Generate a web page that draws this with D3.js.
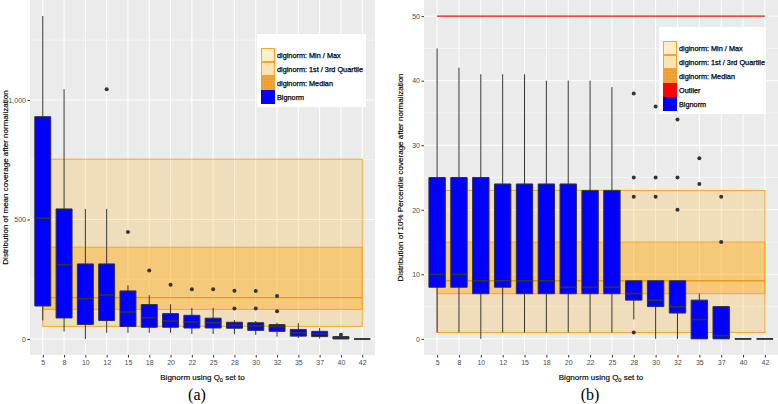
<!DOCTYPE html>
<html>
<head>
<meta charset="utf-8">
<script src="https://cdn.jsdelivr.net/npm/d3@7"></script>
<style>
html,body{margin:0;padding:0;background:#fff;}
svg{display:block;}
text{font-family:"Liberation Sans",Arial,Helvetica,sans-serif;}
</style>
</head>
<body>
<svg id="chart" width="778" height="404"></svg>
<script>
// ---------------- DATA ----------------
const categories = ["5","8","10","12","15","18","20","22","25","28","30","32","35","37","40","42"];

// (a) mean coverage after normalization (Bignorm boxplots)
const meanUpper  = [1351,1045,544,544,225,183,145,130,130,79,75,68,66,46,10,0];
const meanQ3     = [930,544,314,314,201,144,106,99,87,70,68,60,40,32,10,0];
const meanMedian = [505,311,169,184,113,89,75,71,68,57,54,52,26,21,4,0];
const meanQ1     = [138,88,61,77,52,49,49,46,46,45,36,32,12,10,0,0];
const meanLower  = [77,31,0,26,26,26,26,21,21,20,17,10,4,2,0,0];
const meanOutliers = [[],[],[],[1045],[448],[286],[227],[208],[208],[202,128],[201,128],[180,116],[],[],[18],[]];
// diginorm summary: min, q1, median, q3, max
const digiMean = [53,124,173,384,752];
const meanTicks = [0,500,1000];
const meanMinorTicks = [250,750,1250];

// (b) 10% percentile coverage after normalization
const p10Upper  = [45,42,41,41,41,40,40,40,39,9,9,9,7,5,0,0];
const p10Q3     = [25,25,25,24,24,24,24,23,23,9,9,9,6,5,0,0];
const p10Median = [10,10,9,9,9,9,8,8,8,7,6,5,3,0.5,0,0];
const p10Q1     = [8,8,7,8,7,7,7,7,7,6,5,4,0,0,0,0];
const p10Lower  = [1,1,0,1,1,1,1,1,1,3,0,0,0,0,0,0];
const p10Outliers = [[],[],[],[],[],[],[],[],[],[38,25,22,1],[36,25,22],[34,25,20],[28,24],[22,15],[],[]];
const digiP10 = [1,7,9,15,23];
const p10OutlierLine = 50;
const p10Ticks = [0,10,20,30,40,50];
const p10MinorTicks = [5,15,25,35,45];

const legendLabelsA = ["diginorm: Min / Max","diginorm: 1st / 3rd Quartile","diginorm: Median","Bignorm"];
const legendLabelsB = ["diginorm: Min / Max","diginorm: 1st / 3rd Quartile","diginorm: Median","Outlier","Bignorm"];

// ---------------- DRAW ----------------
const svg = d3.select("#chart");
const ORANGE = "#F5A623";
const defs = svg.append("defs");
const pat = defs.append("pattern").attr("id","dots").attr("width",3).attr("height",3).attr("patternUnits","userSpaceOnUse");
pat.append("rect").attr("width",3).attr("height",3).attr("fill","#F2A43A");
pat.append("circle").attr("cx",1).attr("cy",1).attr("r",0.6).attr("fill","#D9860E");

function drawPanel(o){
  const g = svg.append("g");
  const x = d3.scalePoint().domain(categories).range([o.left,o.right]).padding(0.6);
  const y = d3.scaleLinear().domain(o.yDomain).range([o.bottom,o.top]);
  const step = x.step();
  const bw = step*0.75;

  g.append("rect").attr("x",o.left).attr("y",o.top).attr("width",o.right-o.left).attr("height",o.bottom-o.top).attr("fill","#EBEBEB");
  g.selectAll(".mg").data(o.minor).enter().append("line")
    .attr("x1",o.left).attr("x2",o.right).attr("y1",d=>y(d)).attr("y2",d=>y(d))
    .attr("stroke","#fff").attr("stroke-width",0.5);
  g.selectAll(".Mg").data(o.ticks).enter().append("line")
    .attr("x1",o.left).attr("x2",o.right).attr("y1",d=>y(d)).attr("y2",d=>y(d))
    .attr("stroke","#fff").attr("stroke-width",1);
  g.selectAll(".vg").data(categories).enter().append("line")
    .attr("x1",d=>x(d)).attr("x2",d=>x(d)).attr("y1",o.top).attr("y2",o.bottom)
    .attr("stroke","#fff").attr("stroke-width",1);

  const x0 = x(categories[0]), x1 = x(categories[categories.length-1]);
  const dg = o.digi;
  g.append("rect").attr("x",x0).attr("width",x1-x0).attr("y",y(dg[4])).attr("height",y(dg[0])-y(dg[4]))
    .attr("fill","rgba(255,165,0,0.2)").attr("stroke",ORANGE).attr("stroke-width",1);
  g.append("rect").attr("x",x0).attr("width",x1-x0).attr("y",y(dg[3])).attr("height",y(dg[1])-y(dg[3]))
    .attr("fill","rgba(255,165,0,0.35)").attr("stroke",ORANGE).attr("stroke-width",1);
  g.append("line").attr("x1",x0).attr("x2",x1).attr("y1",y(dg[2])).attr("y2",y(dg[2]))
    .attr("stroke","#EE9A17").attr("stroke-width",1.3);

  if(o.outlierLine!=null){
    g.append("line").attr("x1",x0).attr("x2",x1).attr("y1",y(o.outlierLine)).attr("y2",y(o.outlierLine))
      .attr("stroke","#EE1111").attr("stroke-width",1.2);
  }

  categories.forEach((c,i)=>{
    g.append("line").attr("x1",x(c)).attr("x2",x(c)).attr("y1",y(o.upper[i])).attr("y2",y(o.lower[i]))
      .attr("stroke","#333").attr("stroke-width",1);
  });
  categories.forEach((c,i)=>{
    const yt = y(o.q3[i]), yb = y(o.q1[i]);
    g.append("path").attr("d",`M${x(c)-bw/2},${yt}H${x(c)+bw/2}V${yb}H${x(c)-bw/2}Z`)
      .attr("fill","#0000FF").attr("stroke","#333").attr("stroke-width",1);
    g.append("line").attr("x1",x(c)-bw/2).attr("x2",x(c)+bw/2).attr("y1",y(o.median[i])).attr("y2",y(o.median[i]))
      .attr("stroke","#333").attr("stroke-width",1.6);
    o.outliers[i].forEach(v=>{
      g.append("circle").attr("cx",x(c)).attr("cy",y(v)).attr("r",2).attr("fill","#333");
    });
  });

  const ya = g.append("g").attr("transform",`translate(${o.left},0)`)
    .call(d3.axisLeft(y).tickValues(o.ticks).tickSize(2.5).tickPadding(1.5));
  ya.select(".domain").remove();
  ya.selectAll("line").attr("stroke","#333");
  ya.selectAll("text").attr("fill","#4D4D4D").style("font-size","7px");
  const xa = g.append("g").attr("transform",`translate(0,${o.bottom})`)
    .call(d3.axisBottom(x).tickSize(2.5).tickPadding(2.5));
  xa.select(".domain").remove();
  xa.selectAll("line").attr("stroke","#333");
  xa.selectAll("text").attr("fill","#4D4D4D").style("font-size","7px");

  const xt = g.append("text").attr("x",(o.left+o.right)/2).attr("y",380).attr("text-anchor","middle")
    .style("font-size","8px").attr("fill","#000").attr("stroke","#000").attr("stroke-width",0.15);
  xt.append("tspan").text("Bignorm using Q");
  xt.append("tspan").attr("dy",2).style("font-size","5.5px").text("0");
  xt.append("tspan").attr("dy",-2).text(" set to");
  g.append("text").attr("transform",`translate(${o.yTitleX},${(o.top+o.bottom)/2}) rotate(-90)`)
    .attr("text-anchor","middle").style("font-size","8px").attr("fill","#000")
    .attr("stroke","#000").attr("stroke-width",0.15).text(o.yTitle);
  svg.append("text").attr("x",o.captionX).attr("y",400).attr("text-anchor","middle")
    .style("font-family","'Liberation Serif','Times New Roman',serif").style("font-size","16px").text(o.caption);

  const L = o.legend;
  const n = o.legendLabels.length;
  const keyTop = L.y + 14;
  g.append("rect").attr("x",L.x).attr("y",L.y).attr("width",L.w).attr("height",14+n*14+3).attr("fill","#fff");
  o.legendLabels.forEach((lab,i)=>{
    const ky = keyTop + i*14;
    let fill, stroke=null;
    if(lab.indexOf("Min")>=0){fill="rgba(255,165,0,0.2)";stroke=ORANGE;}
    else if(lab.indexOf("Quartile")>=0){fill="rgba(255,165,0,0.3)";stroke=ORANGE;}
    else if(lab.indexOf("Median")>=0){fill="url(#dots)";}
    else if(lab==="Outlier"){fill="#FF0000";}
    else {fill="#0000FF";}
    const r = g.append("rect").attr("x",L.x+4).attr("y",ky).attr("width",14).attr("height",14).attr("fill",fill);
    if(stroke) r.attr("stroke",stroke).attr("stroke-width",1).attr("x",L.x+4.5).attr("y",ky+0.5).attr("width",13).attr("height",13);
    g.append("text").attr("x",L.x+20).attr("y",ky+9.8).style("font-size","7.3px").attr("fill","#000")
      .attr("stroke","#000").attr("stroke-width",0.25).text(lab);
  });
}

drawPanel({
  left:30,right:375,top:0,bottom:355,yDomain:[-67,1418],
  ticks:meanTicks,minor:meanMinorTicks,
  upper:meanUpper,q3:meanQ3,median:meanMedian,q1:meanQ1,lower:meanLower,outliers:meanOutliers,
  digi:digiMean,outlierLine:null,
  yTitle:"Distribution of mean coverage after normalization",yTitleX:8,
  caption:"(a)",captionX:197,
  legend:{x:257,y:34,w:109},legendLabels:legendLabelsA
});
drawPanel({
  left:424,right:778,top:0,bottom:355,yDomain:[-2.5,52.5],
  ticks:p10Ticks,minor:p10MinorTicks,
  upper:p10Upper,q3:p10Q3,median:p10Median,q1:p10Q1,lower:p10Lower,outliers:p10Outliers,
  digi:digiP10,outlierLine:p10OutlierLine,
  yTitle:"Distribution of 10% Percentile coverage after normalization",yTitleX:403,
  caption:"(b)",captionX:590,
  legend:{x:659,y:27,w:107},legendLabels:legendLabelsB
});
</script>
</body>
</html>
